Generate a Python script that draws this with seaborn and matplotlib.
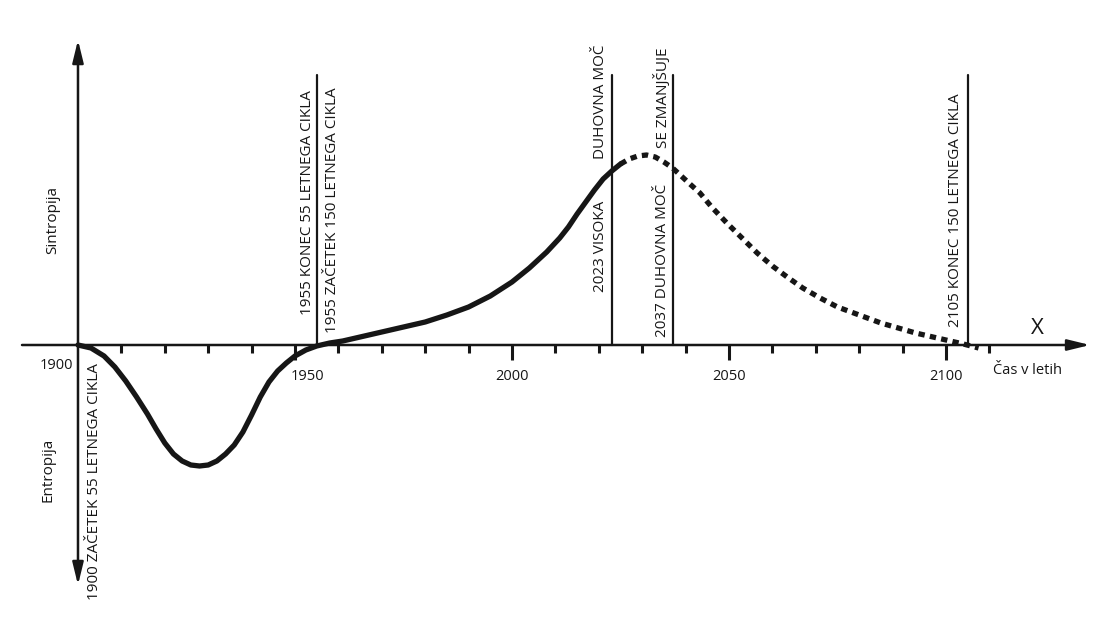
import matplotlib
matplotlib.use("Agg")
import matplotlib.pyplot as plt
import matplotlib.transforms as mtransforms
import seaborn as sns
import pandas as pd

# solid part of the curve (observed)
YEARS_SOLID = [1900, 1903, 1906, 1908.5, 1911, 1913.5, 1916, 1918, 1920, 1922,
               1924, 1926, 1928, 1930, 1932, 1934, 1936, 1938, 1940, 1942,
               1944, 1946, 1948, 1950, 1952.5, 1955, 1958, 1961, 1966, 1970,
               1975, 1980, 1985, 1990, 1995, 2000, 2004, 2008, 2011, 2013,
               2015, 2017, 2019, 2021, 2023, 2025]
VALUES_SOLID = [0, -0.3, -1.1, -2.2, -3.6, -5.2, -6.9, -8.4, -9.8, -10.9,
                -11.6, -12.0, -12.1, -12.0, -11.6, -10.9, -10.0, -8.7, -7.0, -5.2,
                -3.7, -2.6, -1.8, -1.1, -0.5, -0.1, 0.2, 0.4, 0.9, 1.3,
                1.8, 2.3, 3.0, 3.8, 4.9, 6.3, 7.7, 9.3, 10.7, 11.8,
                13.1, 14.3, 15.5, 16.6, 17.4, 18.1]
# dotted part (projection)
YEARS_PROJ = [2025, 2027, 2029, 2031, 2033, 2035, 2037, 2039, 2041, 2043.3,
              2046, 2049.5, 2053, 2056.5, 2060, 2063.4, 2067, 2071, 2075, 2080,
              2085, 2089, 2093, 2097, 2101, 2104, 2107.5]
VALUES_PROJ = [18.1, 18.6, 18.9, 19.0, 18.8, 18.3, 17.7, 16.9, 16.1, 15.2,
               13.8, 12.2, 10.7, 9.2, 7.9, 6.8, 5.7, 4.7, 3.8, 3.0,
               2.2, 1.7, 1.2, 0.8, 0.4, 0.1, -0.3]

EVENT_YEARS = [1955, 2023, 2037, 2105]
MAJOR_TICKS = [1950, 2000, 2050, 2100]
MINOR_TICKS = [1910, 1920, 1930, 1940, 1960, 1970, 1980, 1990, 2010, 2020,
               2030, 2040, 2060, 2070, 2080, 2090, 2110]

INK = "#161616"
FONT = ["Open Sans", "DejaVu Sans"]

sns.set_theme(style="white")
plt.rcParams["font.family"] = FONT

fig = plt.figure(figsize=(11.15, 6.3), dpi=100)
ax = fig.add_axes([0, 0, 1, 1])
ax.set_xlim(1882.03, 2138.94)
ax.set_ylim(-28.5, 34.5)
ax.set_facecolor("white")

solid = pd.DataFrame({"year": YEARS_SOLID, "value": VALUES_SOLID})
proj = pd.DataFrame({"year": YEARS_PROJ, "value": VALUES_PROJ})
sns.lineplot(data=solid, x="year", y="value", ax=ax, color=INK, lw=3.8,
             sort=False, solid_capstyle="round", solid_joinstyle="round")
sns.lineplot(data=proj, x="year", y="value", ax=ax, color=INK, lw=3.8,
             sort=False, linestyle=(0, (1.2, 1.0)))

# axes with arrows
arrow = dict(arrowstyle="-|>,head_length=0.9,head_width=0.22", color=INK,
             lw=1.8, shrinkA=0, shrinkB=0, mutation_scale=15)
ax.annotate("", xy=(2133.2, 0), xytext=(1887.1, 0), arrowprops=arrow)
ax.annotate("", xy=(1900, 30.5), xytext=(1900, 0), arrowprops=arrow)
ax.annotate("", xy=(1900, -24), xytext=(1900, 0), arrowprops=arrow)

# event lines
for yr in EVENT_YEARS:
    ax.plot([yr, yr], [0, 27], color=INK, lw=1.6)

# ticks on the zero line
for s in ax.spines.values():
    s.set_visible(False)
ax.spines["bottom"].set_position(("data", 0))
ax.set_xticks(MAJOR_TICKS)
ax.set_xticks(MINOR_TICKS, minor=True)
ax.set_yticks([])
ax.tick_params(axis="x", which="major", direction="out", length=11, width=2.2,
               color=INK, pad=6, labelsize=10.5, labelcolor=INK, bottom=True)
ax.tick_params(axis="x", which="minor", direction="out", length=6, width=2.2,
               color=INK, bottom=True)
ax.set_xlabel("")
ax.set_ylabel("")
ax.grid(False)
for lab in ax.get_xticklabels():
    if lab.get_text() == "1950":
        lab.set_transform(lab.get_transform() + mtransforms.ScaledTranslation(
            0.12, 0, fig.dpi_scale_trans))

lbl = dict(color=INK, fontsize=11, rotation=90, ha="center")
ax.text(1898.85, -2.0, "1900", color=INK, fontsize=10.5, ha="right", va="center")
ax.text(1903.9, -1.8, "1900 ZAČETEK 55 LETNEGA CIKLA", va="top", **lbl)
ax.text(1952.8, 3.0, "1955 KONEC 55 LETNEGA CIKLA", va="bottom", **lbl)
ax.text(1958.75, 1.2, "1955 ZAČETEK 150 LETNEGA CIKLA", va="bottom", **lbl)
ax.text(2020.5, 5.3, "2023 VISOKA", va="bottom", **lbl)
ax.text(2020.5, 18.6, "DUHOVNA MOČ", va="bottom", **lbl)
ax.text(2034.6, 0.8, "2037 DUHOVNA MOČ", va="bottom", **lbl)
ax.text(2034.6, 19.7, "SE ZMANJŠUJE", va="bottom", **lbl)
ax.text(2102.1, 1.8, "2105 KONEC 150 LETNEGA CIKLA", va="bottom", **lbl)
ax.text(1894.2, 12.5, "Sintropija", va="center", **lbl)
ax.text(1893.0, -12.5, "Entropija", va="center", **lbl)
ax.text(2120.97, 1.7, "X", color=INK, fontsize=16, ha="center", va="center")
ax.text(2110.8, -2.5, "Čas v letih", color=INK, fontsize=10.5, ha="left",
        va="center")

fig.savefig("out.png", dpi=100)
